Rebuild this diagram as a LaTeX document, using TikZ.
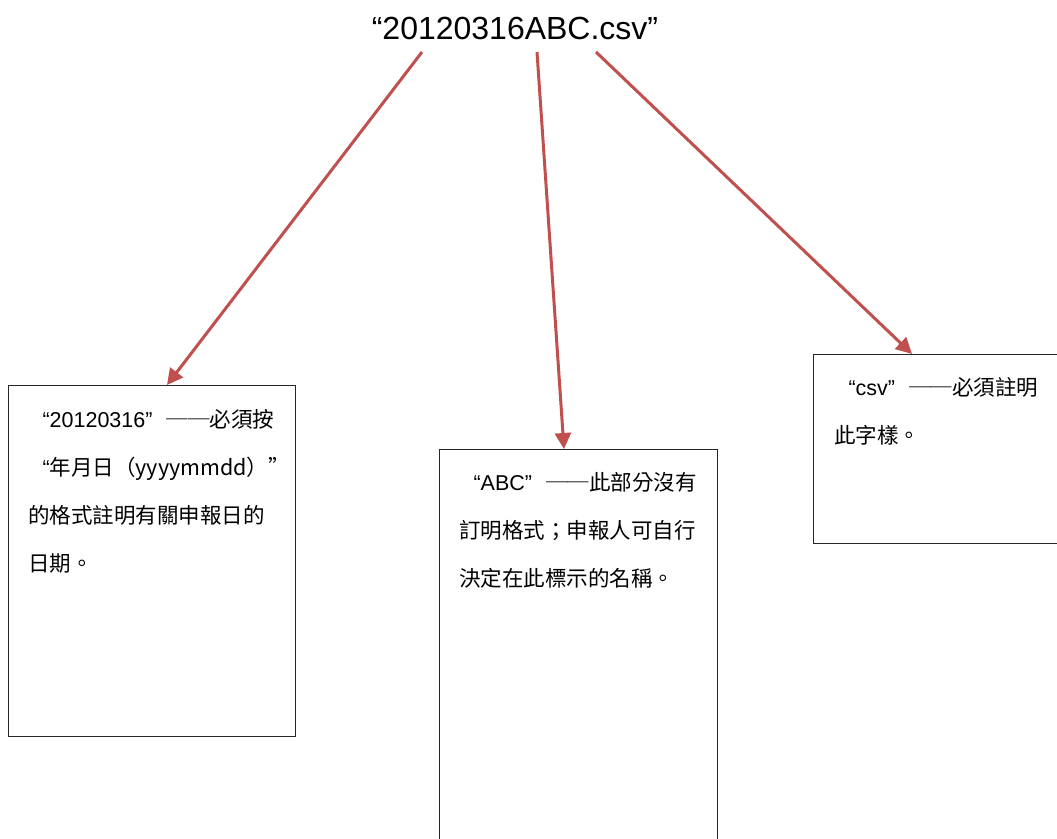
\documentclass[tikz,border=0pt]{standalone}
\usepackage{fontspec}
\setmainfont{Liberation Sans}
\newfontfamily\cjk{Noto Sans CJK TC}
\usetikzlibrary{arrows.meta,positioning}
\definecolor{arrowred}{HTML}{C0504D}
% full-width quotes and dash as in the source
\newcommand\openq{\makebox[1em][r]{“}}
\newcommand\closeq{\makebox[1em][l]{”}}
\newcommand\twodash{\cjk{──}}
\tikzset{
	notebox/.style={draw=black!85, line width=1pt, minimum width=#1, anchor=north west, inner sep=0pt},
	noteline/.style={anchor=base west, inner sep=0pt, font=\fontsize{21.5pt}{48pt}\selectfont},
	pointer/.style={draw=arrowred, line width=3pt, -{Triangle[length=16pt,width=16pt]}}
}
\begin{document}
\begin{tikzpicture}[x=1pt, y=-1pt]
				\useasboundingbox (0,0) rectangle (1057,838);
				\clip (0,0) rectangle (1057,838);
				%file name
				\node[anchor=base, inner sep=0pt, font=\fontsize{32pt}{38pt}\selectfont] (title) at (515,39){“20120316ABC.csv”};
				
				%boxes
				\node[notebox=287, minimum height=351] (boxa) at (8,385){};
				\node[notebox=278, minimum height=460] (boxb) at (439,449){};
				\node[notebox=270, minimum height=189] (boxc) at (813,354){};
				
				%text of the boxes
				\node[noteline] (a1) at ([xshift=20,yshift=-42]boxa.north west){\openq 20120316\closeq\twodash\cjk{必須按}};
				\node[noteline] (a2) at ([yshift=-48]a1.base west){\openq\cjk{年月日（}yyyymmdd\cjk{）}\closeq};
				\node[noteline] (a3) at ([yshift=-48]a2.base west){\cjk{的格式註明有關申報日的}};
				\node[noteline] (a4) at ([yshift=-48]a3.base west){\cjk{日期。}};
				
				\node[noteline] (b1) at ([xshift=20,yshift=-41]boxb.north west){\openq ABC\closeq\twodash\cjk{此部分沒有}};
				\node[noteline] (b2) at ([yshift=-48]b1.base west){\cjk{訂明格式；申報人可自行}};
				\node[noteline] (b3) at ([yshift=-48]b2.base west){\cjk{決定在此標示的名稱。}};
				
				\node[noteline] (c1) at ([xshift=21,yshift=-41]boxc.north west){\openq csv\closeq\twodash\cjk{必須註明}};
				\node[noteline] (c2) at ([yshift=-48]c1.base west){\cjk{此字樣。}};
				
				%arrows
				\coordinate (sa) at ([xshift=-93,yshift=-13]title.base);
				\coordinate (sb) at ([xshift=22,yshift=-13]title.base);
				\coordinate (sc) at ([xshift=81,yshift=-13]title.base);
				\draw[pointer] (sa) -- ([xshift=159]boxa.north west);
				\draw[pointer] (sb) -- ([xshift=125]boxb.north west);
				\draw[pointer] (sc) -- ([xshift=99]boxc.north west);
			\end{tikzpicture}
\end{document}
